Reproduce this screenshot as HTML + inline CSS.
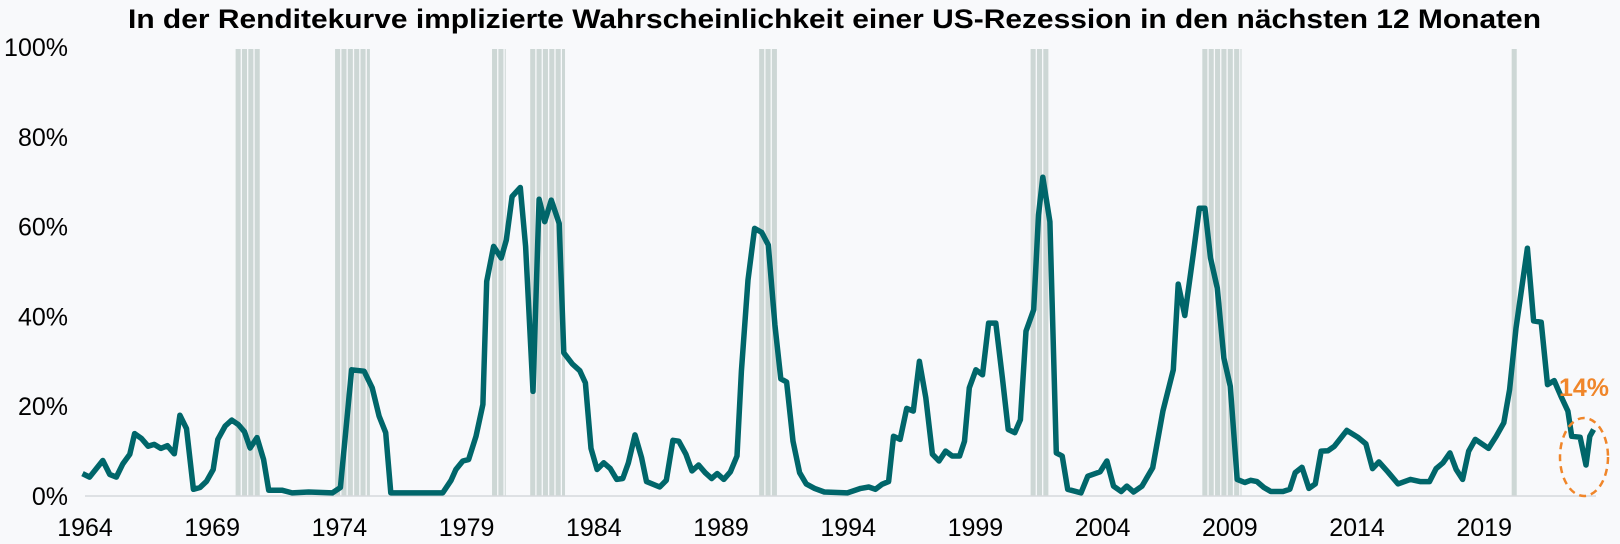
<!DOCTYPE html>
<html><head><meta charset="utf-8"><style>
html,body{margin:0;padding:0;background:#f8f9fb;}
svg{display:block;font-family:"Liberation Sans",Arial,sans-serif;}
</style></head><body>
<svg id="chart" width="1620" height="544" viewBox="0 0 1620 544" xmlns="http://www.w3.org/2000/svg">
<rect x="0" y="0" width="1620" height="544" fill="#f8f9fb"/>
<text x="128" y="28" font-size="27" font-weight="bold" fill="#000" textLength="1413" lengthAdjust="spacingAndGlyphs">In der Renditekurve implizierte Wahrscheinlichkeit einer US-Rezession in den nächsten 12 Monaten</text>
<g id="bands"></g>
<line x1="85" y1="496" x2="1596" y2="496" stroke="#d6d9dc" stroke-width="1.5"/>
<g id="yaxis"></g>
<g id="xaxis"></g>
<g id="series"></g>
<ellipse cx="1584" cy="457" rx="24" ry="39" fill="none" stroke="#f0862a" stroke-width="2.5" stroke-dasharray="7,5"/>
<text x="1584" y="396" font-size="25" font-weight="bold" fill="#f0862a" text-anchor="middle">14%</text>
</svg>
<script>
const dates = [1963.9,1964.18,1964.7,1964.97,1965.23,1965.49,1965.76,1965.95,1966.22,1966.48,1966.72,1966.98,1967.24,1967.51,1967.73,1967.99,1968.26,1968.52,1968.78,1969.04,1969.22,1969.51,1969.77,1970.03,1970.27,1970.49,1970.76,1971.02,1971.22,1971.74,1972.14,1972.79,1973.72,1974.04,1974.48,1974.97,1975.29,1975.56,1975.82,1976.02,1978.06,1978.39,1978.58,1978.85,1979.08,1979.37,1979.64,1979.79,1980.06,1980.36,1980.56,1980.79,1981.11,1981.32,1981.61,1981.85,1982.07,1982.33,1982.64,1982.82,1983.16,1983.45,1983.67,1983.89,1984.13,1984.39,1984.65,1984.9,1985.14,1985.36,1985.62,1985.88,1986.07,1986.59,1986.85,1987.11,1987.34,1987.62,1987.86,1988.12,1988.38,1988.63,1988.85,1989.11,1989.37,1989.63,1989.8,1990.06,1990.32,1990.6,1990.86,1991.12,1991.35,1991.58,1991.83,1992.09,1992.35,1992.68,1993.06,1993.97,1994.49,1994.81,1995.07,1995.33,1995.59,1995.78,1996.04,1996.3,1996.56,1996.8,1997.05,1997.31,1997.57,1997.83,1998.09,1998.38,1998.57,1998.76,1999.02,1999.28,1999.52,1999.8,2000.06,2000.29,2000.55,2000.77,2000.99,2001.29,2001.48,2001.65,2001.93,2002.18,2002.41,2002.63,2003.15,2003.42,2003.9,2004.17,2004.43,2004.73,2004.95,2005.22,2005.55,2005.97,2006.37,2006.78,2006.97,2007.23,2007.57,2007.8,2008.02,2008.24,2008.51,2008.77,2009.02,2009.29,2009.59,2009.82,2010.07,2010.34,2010.61,2011.09,2011.36,2011.57,2011.84,2012.11,2012.36,2012.59,2012.86,2013.11,2013.6,2014.05,2014.35,2014.61,2014.86,2015.21,2015.61,2016.1,2016.48,2016.85,2017.11,2017.38,2017.65,2017.9,2018.15,2018.39,2018.65,2019.17,2019.47,2019.77,2020.0,2020.25,2020.7,2020.94,2021.24,2021.49,2021.75,2022.02,2022.29,2022.44,2022.77,2023.0,2023.15,2023.3];
const probabilities = [5.0,4.2,7.9,4.8,4.2,7.2,9.3,13.9,12.8,11.1,11.5,10.6,11.2,9.4,18.0,15.0,1.5,1.9,3.3,5.9,12.6,15.6,16.9,15.9,14.3,10.7,13.0,8.1,1.3,1.3,0.7,0.9,0.7,1.9,28.1,27.8,24.1,17.8,14.1,0.7,0.7,3.5,5.9,7.8,8.1,13.3,20.4,47.8,55.6,53.0,57.0,66.7,68.7,55.6,23.3,66.1,61.1,65.9,60.7,31.9,29.4,27.9,25.2,10.6,5.9,7.4,6.1,3.7,3.9,7.4,13.6,8.5,3.2,2.0,3.5,12.4,12.2,9.3,5.6,6.9,5.2,3.9,5.0,3.7,5.4,8.9,27.8,48.1,59.6,58.7,55.9,38.1,26.1,25.4,12.2,5.2,2.7,1.7,0.9,0.7,1.7,2.0,1.5,2.6,3.2,13.3,12.6,19.5,18.9,30.0,21.9,9.3,7.8,10.0,8.9,8.9,12.2,24.1,28.1,27.0,38.5,38.5,26.3,14.8,14.1,17.0,36.7,41.5,62.6,71.0,61.1,9.6,8.9,1.5,0.7,4.4,5.4,7.8,2.2,1.0,2.2,0.9,2.2,6.3,18.9,28.1,47.2,40.2,54.1,64.1,64.1,53.0,46.3,30.7,24.4,3.7,3.0,3.5,3.2,1.9,1.0,1.0,1.5,5.2,6.4,1.7,2.7,10.0,10.1,11.1,14.6,13.0,11.6,6.1,7.6,5.4,2.7,3.7,3.2,3.2,6.1,7.4,9.6,5.9,3.7,10.0,12.6,10.6,13.3,16.3,23.7,37.4,55.2,39.0,38.7,24.8,25.7,22.2,18.9,13.3,13.1,6.9,13.3,14.8];
const recessionStarts = [1969.92,1973.83,1980.0,1981.5,1990.5,2001.17,2007.92,2020.08];
const recessionEnds = [1970.92,1975.25,1980.58,1982.92,1991.25,2001.92,2009.5,2020.33];
const xTickLabels = ["1964","1969","1974","1979","1984","1989","1994","1999","2004","2009","2014","2019"];
const yTickLabels = ["0%","20%","40%","60%","80%","100%"];
const yTickValues = [0,20,40,60,80,100];

const NS = "http://www.w3.org/2000/svg";
const X0 = 85, PXY = 25.44, Y0 = 496, PXV = 4.49;
function xScale(yr){ return X0 + (yr - 1964) * PXY; }
function yScale(v){ return Y0 - v * PXV; }

const bands = document.getElementById('bands');
recessionStarts.forEach((s, i) => {
  const e = recessionEnds[i];
  for (let q = s; q < e - 0.01; q += 0.25) {
    const qe = Math.min(q + 0.25, e);
    const r = document.createElementNS(NS, 'rect');
    
    
    r.setAttribute('x', xScale(q));
    r.setAttribute('y', yScale(100) + 2);
    r.setAttribute('width', Math.max(xScale(qe) - xScale(q) - 1.3, 1));
    r.setAttribute('height', Y0 - yScale(100) - 2);
    r.setAttribute('fill', '#cdd7d5');
    bands.appendChild(r);
  }
});

const yaxis = document.getElementById('yaxis');
yTickValues.forEach((v, i) => {
  const t = document.createElementNS(NS, 'text');
  
  
  t.setAttribute('x', 68);
  t.setAttribute('y', yScale(v) + 9);
  t.setAttribute('text-anchor', 'end');
  t.setAttribute('font-size', '25');
  t.setAttribute('fill', '#000');
  t.textContent = yTickLabels[i];
  yaxis.appendChild(t);
});

const xaxis = document.getElementById('xaxis');
xTickLabels.forEach((lab) => {
  const t = document.createElementNS(NS, 'text');
  
  
  t.setAttribute('x', xScale(parseFloat(lab)));
  t.setAttribute('y', 536);
  t.setAttribute('text-anchor', 'middle');
  t.setAttribute('font-size', '25');
  t.setAttribute('fill', '#000');
  t.textContent = lab;
  xaxis.appendChild(t);
});

const series = document.getElementById('series');
const p = document.createElementNS(NS, 'polyline');


p.setAttribute('points', dates.map((d, i) => xScale(d).toFixed(1) + ',' + yScale(probabilities[i]).toFixed(1)).join(' '));
p.setAttribute('fill', 'none');
p.setAttribute('stroke', '#00666a');
p.setAttribute('stroke-width', '5.5');
p.setAttribute('stroke-linejoin', 'round');
series.appendChild(p);
</script>
</body></html>
